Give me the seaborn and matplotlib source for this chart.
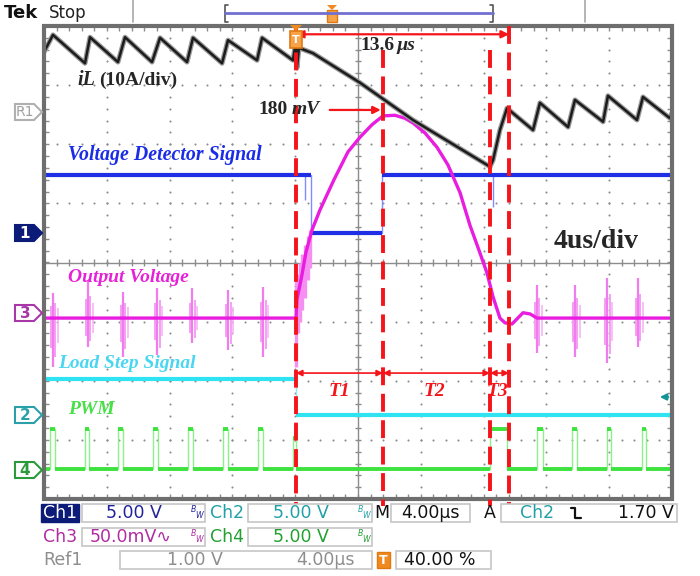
import numpy as np
import pandas as pd
import matplotlib
matplotlib.use("Agg")
import matplotlib.pyplot as plt
import seaborn as sns
from matplotlib.patches import Polygon, Rectangle

sns.set_theme(style="white")
plt.rcParams['font.family'] = ['DejaVu Sans']

# ---------------- data: time in µs (4 µs/div), level in divisions ----------------
# Ref1: inductor current iL (10 A/div)
il_t = [0, 0.57, 2.61, 2.93, 4.71, 5.16, 6.88, 7.39, 9.11, 9.49, 11.34, 11.72, 13.57, 13.89,
        15.86, 16.05, 16.11, 16.24, 17.13, 20.13, 23.50, 28.41, 28.60, 29.04, 29.49, 31.15,
        31.59, 33.38, 33.82, 35.61, 35.92, 37.77, 38.15, 39.87, 40.0]
il_v = [3.56, 3.85, 3.37, 3.81, 3.39, 3.81, 3.39, 3.80, 3.39, 3.80, 3.37, 3.76, 3.42, 3.80,
        3.42, 3.76, 3.29, 3.63, 3.54, 3.04, 2.41, 1.62, 1.73, 2.24, 2.61, 2.24,
        2.70, 2.29, 2.75, 2.38, 2.82, 2.41, 2.80, 2.44, 2.53]

# Ch1: voltage detector signal
ch1_t = [0, 17.01, 17.01, 21.53, 21.53, 40]
ch1_v = [1.48, 1.48, 0.50, 0.50, 1.48, 1.48]
ch1_glitch_t = [16.63, 28.62]
ch1_glitch_lo = [1.06, 0.94]

# Ch3: output voltage (50 mV/div)
ch3_t = [0, 16.05, 16.11, 16.43, 16.69, 17.07, 17.58, 18.47, 19.36, 20.13, 20.89, 21.59,
         22.36, 22.99, 23.50, 24.27, 25.03, 25.73, 26.50, 27.13, 27.77, 28.22, 28.60,
         29.04, 29.36, 29.81, 30.51, 30.96, 31.40, 40]
ch3_v = [-0.94, -0.94, -0.63, -0.21, 0.18, 0.55, 0.89, 1.40, 1.87, 2.12, 2.33, 2.48,
         2.49, 2.44, 2.36, 2.19, 1.95, 1.65, 1.18, 0.63, 0.16, -0.18, -0.58,
         -0.94, -1.02, -1.04, -0.85, -0.87, -0.94, -0.94]
ch3_spike_t = [0.57, 2.80, 5.03, 7.20, 9.43, 11.72, 13.95, 31.40, 33.82, 35.86, 37.83]
ch3_spike_hi = [-0.52, -0.30, -0.50, -0.43, -0.43, -0.47, -0.41, -0.38, -0.38, -0.26, -0.26]
ch3_spike_lo = [-1.77, -1.43, -1.60, -1.56, -1.36, -1.48, -1.60, -1.53, -1.60, -1.70, -1.43]
ch3_fuzz_t = [16.08, 16.18, 16.30, 16.45, 16.60, 16.80, 16.95]
ch3_fuzz_lo = [-1.77, -1.20, -1.00, -0.80, -0.60, -0.30, -0.10]
ch3_fuzz_hi = [-0.30, -0.20, 0.00, 0.15, 0.30, 0.45, 0.55]

# Ch2: load step signal
ch2_t = [0, 16.05, 16.05, 40]
ch2_v = [-1.97, -1.97, -2.58, -2.58]

# Ch4: PWM
pwm_rise = [0.38, 2.61, 4.71, 6.94, 9.17, 11.40, 13.63, 15.86, 28.41, 31.40, 33.63, 35.86, 38.09]
pwm_fall = [0.70, 2.87, 5.03, 7.26, 9.49, 11.72, 13.95, 16.05, 29.49, 31.78, 33.95, 36.11, 38.34]
pwm_high = [-2.82, -2.82, -2.82, -2.82, -2.82, -2.82, -2.82, -2.97, -2.82, -2.82, -2.82, -2.82, -2.82]
pwm_low = -3.50

# timing markers
cursor_t = [16.05, 21.59, 28.41, 29.62]
cursor_top = [4.0, 3.60, 3.60, 4.0]
interval_labels = ["T1", "T2", "T3"]
span_label = "13.6"
peak_label = "180"

# ---------------- figure ----------------
W, H = 700, 576
fig = plt.figure(figsize=(7, 5.76), dpi=100)
fig.patch.set_facecolor('white')

GL, GR, GT, GB = 44, 672, 26, 499
ax = fig.add_axes([GL / W, 1 - GB / H, (GR - GL) / W, (GB - GT) / H], zorder=2)
ax.patch.set_alpha(0)
ov = fig.add_axes([0, 0, 1, 1], zorder=3)
ov.set_xlim(0, W); ov.set_ylim(H, 0); ov.axis('off'); ov.patch.set_alpha(0)

# ---- graticule ----
gc = '#8c8c8c'
mx = np.arange(0, 40.001, 0.8)
my = np.arange(-4, 4.001, 0.2)
for gx in range(4, 40, 4):
    if gx != 20:
        ax.scatter(np.full_like(my, gx), my, s=2.2, color=gc, lw=0, zorder=1)
for gy in range(-3, 4):
    if gy != 0:
        ax.scatter(mx, np.full_like(mx, gy), s=2.2, color=gc, lw=0, zorder=1)
ax.plot([0, 40], [0, 0], color=gc, lw=1.0, zorder=1)
ax.plot([20, 20], [-4, 4], color=gc, lw=1.0, zorder=1)
ax.vlines(mx, -0.06, 0.06, color=gc, lw=1.0, zorder=1)
ax.hlines(my, 20 - 0.2, 20 + 0.2, color=gc, lw=1.0, zorder=1)
ax.vlines(mx, 4 - 0.09, 4, color=gc, lw=1.0, zorder=1)
ax.vlines(mx, -4, -4 + 0.09, color=gc, lw=1.0, zorder=1)
ax.hlines(my, 0, 0.3, color=gc, lw=1.0, zorder=1)
ax.hlines(my, 40 - 0.3, 40, color=gc, lw=1.0, zorder=1)
ax.add_patch(Rectangle((0, -4), 40, 8, fill=False, lw=3, ec='#6e6e6e', clip_on=False, zorder=6))


def trace(t, v, color, lw, z, alpha=1.0):
    df = pd.DataFrame({'t': t, 'v': v})
    sns.lineplot(data=df, x='t', y='v', ax=ax, color=color, linewidth=lw, sort=False,
                 estimator=None, zorder=z, alpha=alpha)


def step_trace(t, v, flat_color, edge_color, lw, z):
    trace(t, v, edge_color, 1.0, z)
    for i in range(len(t) - 1):
        if v[i] == v[i + 1] and t[i + 1] > t[i]:
            ax.hlines(v[i], t[i], t[i + 1], color=flat_color, lw=lw, zorder=z + 0.1)


# PWM
pwm_t, pwm_v = [0.0], [pwm_low]
for r, f, h in zip(pwm_rise, pwm_fall, pwm_high):
    pwm_t += [r, r, f, f]
    pwm_v += [pwm_low, h, h, pwm_low]
pwm_t.append(40.0); pwm_v.append(pwm_low)
step_trace(pwm_t, pwm_v, '#3ee23e', '#8cf08c', 2.8, 3)

# Load step
step_trace(ch2_t, ch2_v, '#2fe3f2', '#8aeef8', 3.0, 3)

# Voltage detector
step_trace(ch1_t, ch1_v, '#1f2fe6', '#7f8cff', 3.0, 3)
ax.vlines(ch1_glitch_t, ch1_glitch_lo, 1.48, color='#7f8cff', lw=1.0, zorder=3)

# Output voltage
sp_t = np.array(ch3_spike_t)
sp_hi = np.array(ch3_spike_hi)
sp_lo = np.array(ch3_spike_lo)
ax.vlines(sp_t - 0.14, sp_lo * 0.6 - 0.38, sp_hi * 0.5 - 0.47, color='#f6a0f4', lw=1.4, zorder=3)
ax.vlines(sp_t + 0.16, sp_lo * 0.8 - 0.19, sp_hi * 0.6 - 0.38, color='#f6a0f4', lw=1.4, zorder=3)
ax.vlines(sp_t + 0.30, sp_lo * 0.5 - 0.47, sp_hi * 0.4 - 0.56, color='#f8b4f6', lw=1.2, zorder=3)
ax.vlines(sp_t, sp_lo, sp_hi, color='#f07cee', lw=1.6, zorder=3)
ax.vlines(ch3_fuzz_t, ch3_fuzz_lo, ch3_fuzz_hi, color='#f590f2', lw=2.4, zorder=3)
trace(ch3_t, ch3_v, '#e81de0', 2.4, 4)

# Inductor current
trace(il_t, il_v, '#9a9a9a', 3.6, 4)
trace(il_t, il_v, '#1c1c1c', 1.8, 4.1)

# ---- red cursors and arrows ----
red = '#f5141a'
for x, top in zip(cursor_t, cursor_top):
    ax.plot([x, x], [top, -4.12], color=red, lw=2.8, ls=(0, (4.6, 2.2)), clip_on=False, zorder=7)

arrow_kw = dict(arrowstyle='<|-|>', color=red, lw=1.6, mutation_scale=11, shrinkA=0, shrinkB=0)
ax.annotate('', xy=(cursor_t[3], 3.86), xytext=(cursor_t[0], 3.86), arrowprops=arrow_kw, zorder=7)
ax.annotate('', xy=(21.45, 2.58), xytext=(18.2, 2.58),
            arrowprops=dict(arrowstyle='-|>', color=red, lw=1.6, mutation_scale=11,
                            shrinkA=0, shrinkB=0), zorder=7)
for a, b in zip(cursor_t[:-1], cursor_t[1:]):
    ax.annotate('', xy=(b, -1.87), xytext=(a, -1.87),
                arrowprops=dict(arrowstyle='<|-|>', color=red, lw=1.2, mutation_scale=9,
                                shrinkA=0, shrinkB=0), zorder=7)

ax.set_xlim(0, 40); ax.set_ylim(-4, 4)
ax.axis('off')

# ---- trigger markers ----
ov.add_patch(Rectangle((290, 31), 12, 17, fc='#f6a24a', ec='#e07a10', lw=1.2, zorder=8))
ov.text(296, 40, 'T', color='white', fontsize=8, fontweight='bold', ha='center', va='center', zorder=9)
ov.add_patch(Polygon([(290, 25), (302, 25), (296, 31)], closed=True, fc='#f08a20', ec='none', zorder=8))

# ---- annotation texts ----
serif = 'Liberation Serif'
ov.text(77, 80, 'iL', fontsize=14.5, fontweight='bold', style='italic', family=serif, va='center')
ov.text(99, 80, '(10A/div)', fontsize=14, fontweight='bold', family=serif, va='center')
ov.text(258, 110, peak_label, fontsize=14, fontweight='bold', family=serif, va='center')
ov.text(292, 110, 'mV', fontsize=14, fontweight='bold', style='italic', family=serif, va='center')
ov.text(360, 46, span_label, fontsize=14, fontweight='bold', family=serif, va='center')
ov.text(397, 46, 'µs', fontsize=14, fontweight='bold', style='italic', family=serif, va='center')
ov.text(68, 155, 'Voltage Detector Signal', fontsize=14.3, fontweight='bold', style='italic',
        family=serif, color='#1a2ce8', va='center')
ov.text(68, 277, 'Output Voltage', fontsize=14, fontweight='bold', style='italic',
        family=serif, color='#e622d8', va='center')
ov.text(58, 363, 'Load Step Signal', fontsize=14, fontweight='bold', style='italic',
        family=serif, color='#4ad6f0', va='center')
ov.text(68, 410, 'PWM', fontsize=14, fontweight='bold', style='italic',
        family=serif, color='#48e048', va='center')
ov.text(554, 242, '4us/div', fontsize=20, fontweight='bold', family=serif, va='center')
for lab, xc in zip(interval_labels, [339, 434, 497]):
    ov.text(xc, 391, lab, fontsize=14, fontweight='bold', style='italic', family=serif,
            color=red, ha='center', va='center')

# trigger level arrow (right side)
ov.annotate('', xy=(657, 397), xytext=(671, 397),
            arrowprops=dict(arrowstyle='-|>', color='#139494', lw=1.6, mutation_scale=9))

# ---- channel ground markers on the left ----
def gmarker(yc, label, ec, fc, tc, fs=11, bold=False):
    pts = [(15, yc - 8), (34, yc - 8), (42, yc), (34, yc + 8), (15, yc + 8)]
    ov.add_patch(Polygon(pts, closed=True, fc=fc, ec=ec, lw=1.5))
    ov.text(25, yc + 0.5, label, color=tc, fontsize=fs, ha='center', va='center',
            fontweight='bold' if bold else 'normal')

gmarker(112, 'R1', '#b0b0b0', 'white', '#a0a0a0', fs=10)
gmarker(233, '1', '#0c1a78', '#0c1a78', 'white', bold=True)
gmarker(313, '3', '#a838a8', 'white', '#a838a8', bold=True)
gmarker(415, '2', '#2aa0a8', 'white', '#2aa0a8', bold=True)
gmarker(470, '4', '#2a9a3a', 'white', '#2a9a3a', bold=True)

# ---- top status bar ----
ov.text(4, 13, 'Tek', fontsize=13, fontweight='bold', va='center', color='#111111')
ov.text(49, 13, 'Stop', fontsize=12, va='center', color='#222222')
ov.plot([133, 133], [0, 22], color='#a8a8a8', lw=1.2)
ov.plot([585, 585], [0, 22], color='#a8a8a8', lw=1.2)
ov.plot([228, 225, 225, 228], [5, 5, 22, 22], color='#555555', lw=1.2)
ov.plot([490, 493, 493, 490], [5, 5, 22, 22], color='#555555', lw=1.2)
ov.plot([225, 493], [13, 13], color='#7070d0', lw=2)
ov.add_patch(Rectangle((327, 10), 10, 12, fc='#f6a24a', ec='#e07a10', lw=1))
ov.add_patch(Polygon([(327, 5), (337, 5), (332, 10)], closed=True, fc='#f08a20', ec='none'))

# ---- bottom readout ----
def box(x0, y0, x1, y1):
    ov.add_patch(Rectangle((x0, y0), x1 - x0, y1 - y0, fc='white', ec='#c6c6c6', lw=1.2))

def bw(x, y, c):
    ov.text(x, y, r'${}^{B}{}_{W}$', fontsize=8, color=c, ha='center', va='center')

navy, teal, mag, grn, gry = '#22229a', '#22a0a8', '#b02ca2', '#22a030', '#8e8e8e'
fs = 12.5
# row 1
ov.add_patch(Rectangle((41, 504), 38, 18, fc='#0c1a78', ec='#0c1a78'))
ov.text(60, 513, 'Ch1', color='white', fontsize=fs, ha='center', va='center')
box(82, 504, 205, 522)
ov.text(134, 513, '5.00 V', color=navy, fontsize=fs, ha='center', va='center')
bw(198, 513, navy)
ov.text(227, 513, 'Ch2', color=teal, fontsize=fs, ha='center', va='center')
box(248, 504, 372, 522)
ov.text(301, 513, '5.00 V', color=teal, fontsize=fs, ha='center', va='center')
bw(365, 513, teal)
ov.text(382, 513, 'M', color='#111111', fontsize=fs, ha='center', va='center')
box(391, 504, 470, 522)
ov.text(430, 513, '4.00µs', color='#111111', fontsize=fs, ha='center', va='center')
ov.text(490, 513, 'A', color='#111111', fontsize=fs, ha='center', va='center')
box(501, 504, 677, 522)
ov.text(537, 513, 'Ch2', color=teal, fontsize=fs, ha='center', va='center')
ov.plot([571, 575, 575, 581], [508, 508, 518, 518], color='#111111', lw=1.6)
ov.text(646, 513, '1.70 V', color='#111111', fontsize=fs, ha='center', va='center')
# row 2
ov.text(60, 537, 'Ch3', color=mag, fontsize=fs, ha='center', va='center')
box(82, 528, 205, 546)
ov.text(131, 537, '50.0mV∿', color=mag, fontsize=fs, ha='center', va='center')
bw(198, 537, mag)
ov.text(227, 537, 'Ch4', color=grn, fontsize=fs, ha='center', va='center')
box(248, 528, 372, 546)
ov.text(301, 537, '5.00 V', color=grn, fontsize=fs, ha='center', va='center')
bw(365, 537, grn)
# row 3
ov.text(63, 560, 'Ref1', color=gry, fontsize=fs, ha='center', va='center')
box(120, 551, 372, 569)
ov.text(195, 560, '1.00 V', color=gry, fontsize=fs, ha='center', va='center')
ov.text(325, 560, '4.00µs', color=gry, fontsize=fs, ha='center', va='center')
ov.add_patch(Rectangle((377, 552), 13, 16, fc='#f08a20', ec='#e07a10'))
ov.text(383.5, 560, 'T', color='white', fontsize=9, fontweight='bold', ha='center', va='center')
box(396, 551, 491, 569)
ov.text(440, 560, '40.00 %', color='#111111', fontsize=fs, ha='center', va='center')

fig.savefig('out.png', dpi=100, facecolor='white')
